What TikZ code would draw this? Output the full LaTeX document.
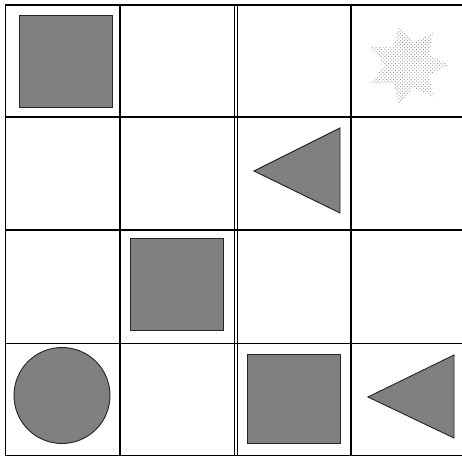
\documentclass[tikz,border=0pt]{standalone}
\usepackage{tikz}
\usetikzlibrary{patterns}

\begin{document}
\begin{tikzpicture}[
  x=0.03cm, y=-0.03cm,
  gridline/.style={line width=1.2pt, black},
  solidpiece/.style={fill=black!50, draw=black!85, line width=0.8pt},
  dotpiece/.style={pattern=crosshatch dots, pattern color=black!45}
]
  \useasboundingbox (0,0) rectangle (462,459);

  % Rows of the board (open on the right side)
  \foreach \y in {5,117,230,343.5,455.5}
    \draw[gridline] (5.5,\y) -- (462,\y);

  % Columns (the middle one is doubled)
  \foreach \x in {5.5,120,234.5,237.5,351}
    \draw[gridline] (\x,5) -- (\x,455.5);

  % Squares
  \filldraw[solidpiece] (19,15) rectangle (112,107);
  \filldraw[solidpiece] (130,238) rectangle (223,330);
  \filldraw[solidpiece] (247,354) rectangle (340,443);

  % Left-pointing triangles
  \filldraw[solidpiece] (254,171) -- (340,128) -- (340,213) -- cycle;
  \filldraw[solidpiece] (368,397) -- (454,355) -- (454,438) -- cycle;

  % Disc
  \filldraw[solidpiece] (62,395.5) circle[radius=48];

  % Seven-pointed dotted star
  \begin{scope}[shift={(408,65)}]
    \fill[dotpiece] (0:41)
      \foreach \k in {1,...,13} { -- ({\k*360/14}:{mod(\k,2)==0 ? 41 : 23}) } -- cycle;
  \end{scope}
\end{tikzpicture}
\end{document}
